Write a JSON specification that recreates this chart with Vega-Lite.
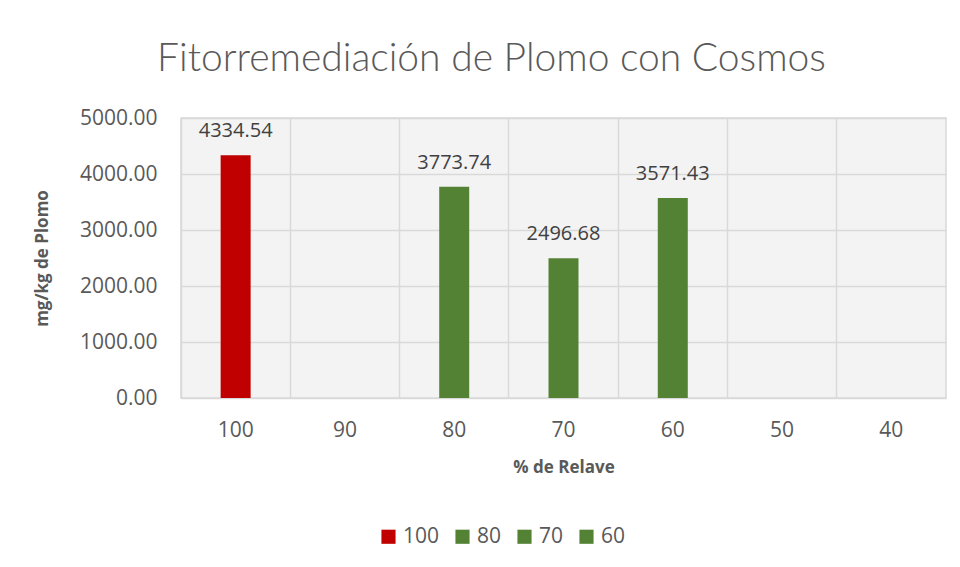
{
  "$schema": "https://vega.github.io/schema/vega-lite/v6.json",
  "width": 765,
  "height": 280,
  "autosize": {"type": "none"},
  "padding": {"left": 181, "top": 118, "right": 14, "bottom": 169},
  "background": "white",
  "title": {
    "text": "Fitorremediación de Plomo con Cosmos",
    "font": "Lato",
    "fontWeight": 300,
    "fontSize": 39,
    "color": "#595959",
    "anchor": "middle",
    "dx": -72,
    "offset": 28
  },
  "data": {
    "values": [
      {"relave": "100", "valor": 4334.54, "serie": "100"},
      {"relave": "80", "valor": 3773.74, "serie": "80"},
      {"relave": "70", "valor": 2496.68, "serie": "70"},
      {"relave": "60", "valor": 3571.43, "serie": "60"}
    ]
  },
  "encoding": {
    "x": {
      "field": "relave",
      "type": "nominal",
      "sort": null,
      "scale": {"domain": ["100", "90", "80", "70", "60", "50", "40"], "paddingInner": 0, "paddingOuter": 0},
      "axis": {
        "title": "% de Relave",
        "labelAngle": 0,
        "labelFont": "Open Sans",
        "labelFontSize": 21,
        "labelColor": "#595959",
        "labelPadding": 21,
        "titleFont": "Open Sans",
        "titleFontSize": 17,
        "titleFontWeight": "bold",
        "titleColor": "#595959",
        "titlePadding": 19,
        "domain": false,
        "ticks": false,
        "grid": true,
        "gridColor": "#d9d9d9",
        "gridWidth": 1.5,
        "bandPosition": 0
      }
    },
    "y": {
      "field": "valor",
      "type": "quantitative",
      "scale": {"domain": [0, 5000]},
      "axis": {
        "title": "mg/kg de Plomo",
        "format": ".2f",
        "values": [0, 1000, 2000, 3000, 4000, 5000],
        "labelOverlap": false,
        "labelFont": "Open Sans",
        "labelFontSize": 21,
        "labelColor": "#595959",
        "labelPadding": 24,
        "titleFont": "Open Sans",
        "titleFontSize": 17,
        "titleFontWeight": "bold",
        "titleColor": "#595959",
        "titlePadding": 28,
        "domain": false,
        "ticks": false,
        "gridColor": "#d9d9d9",
        "gridWidth": 1.5
      }
    }
  },
  "layer": [
    {
      "mark": {"type": "bar", "width": 30},
      "encoding": {
        "color": {
          "field": "serie",
          "type": "nominal",
          "scale": {"domain": ["100", "80", "70", "60"], "range": ["#C00000", "#548235", "#548235", "#548235"]},
          "legend": {
            "title": null,
            "orient": "none",
            "direction": "horizontal",
            "legendX": 197,
            "legendY": 408,
            "symbolType": "square",
            "symbolSize": 200,
            "symbolStrokeWidth": 0,
            "labelFont": "Open Sans",
            "labelFontSize": 21,
            "labelColor": "#595959",
            "columnPadding": 12
          }
        }
      }
    },
    {
      "mark": {"type": "text", "dy": -24, "font": "Open Sans", "fontSize": 20, "color": "#404040"},
      "encoding": {
        "text": {"field": "valor", "type": "quantitative", "format": ".2f"}
      }
    }
  ],
  "config": {
    "view": {"fill": "#f3f3f3", "stroke": "#d9d9d9", "strokeWidth": 1.5}
  }
}
